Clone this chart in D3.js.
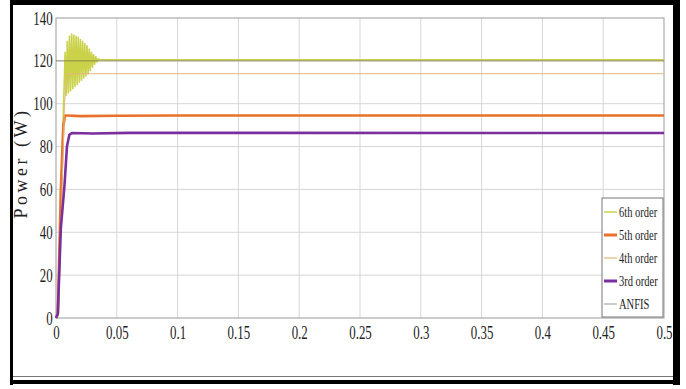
<!DOCTYPE html>
<html>
<head>
<meta charset="utf-8">
<script src="https://cdnjs.cloudflare.com/ajax/libs/d3/7.8.5/d3.min.js"></script>
<style>
  body { margin: 0; background: #fff; }
  svg text { font-family: "Liberation Serif", "DejaVu Serif", serif; }
</style>
</head>
<body>
<div id="chart"></div>
<script>
width = 686;
height = 389;

// time (s) and power (W)
let order6T = [0, 0.002, 0.004, 0.006,
    0.0075, 0.0084, 0.0093, 0.0102, 0.0111, 0.012, 0.0129, 0.0138, 0.0147, 0.0156,
    0.0165, 0.0174, 0.0183, 0.0192, 0.0201, 0.021, 0.0219, 0.0228, 0.0237, 0.0246,
    0.0255, 0.0264, 0.0273, 0.0282, 0.0291, 0.03, 0.0309, 0.0318, 0.0327, 0.0336,
    0.0345, 0.036, 0.5];
let order6V = [0, 2, 50, 95,
    124, 104, 129, 105, 131.5, 106, 132.5, 107, 132, 108,
    131.5, 109, 131, 110, 130, 111, 129, 112, 128, 113,
    127, 114, 125.5, 115.5, 124, 117, 123, 118.5, 122, 119.5,
    121, 120.5, 120.5];

let order5T = [0, 0.0015, 0.004, 0.006, 0.0075, 0.009, 0.02, 0.05, 0.1, 0.5];
let order5V = [0, 2, 60, 90, 94.5, 94.5, 94.2, 94.4, 94.5, 94.5];

let order4T = [0, 0.002, 0.005, 0.007, 0.009, 0.5];
let order4V = [0, 5, 60, 100, 114, 114];

let order3T = [0, 0.0015, 0.004, 0.007, 0.009, 0.011, 0.013, 0.03, 0.06, 0.5];
let order3V = [0, 2, 42, 62, 80, 85.5, 86.3, 86.1, 86.4, 86.3];

let anfisT = [0, 0.5];
let anfisV = [120, 120];

let xTicks = [0, 0.05, 0.1, 0.15, 0.2, 0.25, 0.3, 0.35, 0.4, 0.45, 0.5];
let yTicks = [0, 20, 40, 60, 80, 100, 120, 140];

let series = [
    {name: "6th order", t: order6T, v: order6V, color: "#cad24a", w: 1.6, lw: 1.5},
    {name: "5th order", t: order5T, v: order5V, color: "#e8702a", w: 2.6, lw: 3},
    {name: "4th order", t: order4T, v: order4V, color: "#e2b878", w: 1, lw: 1.2},
    {name: "3rd order", t: order3T, v: order3V, color: "#7b2f9e", w: 2.6, lw: 3},
    {name: "ANFIS", t: anfisT, v: anfisV, color: "#6f6f45", w: 0.7, lw: 1}
];

let svg1 = d3.select("#chart")
    .append("svg")
    .attr("width", width)
    .attr("height", height);

let x = d3.scaleLinear().domain([0, 0.5]).range([56, 664]);
let y = d3.scaleLinear().domain([0, 140]).range([318, 18]);

// grid
svg1.append("g")
    .selectAll("line")
    .data(xTicks.slice(1, -1))
    .enter()
    .append("line")
    .attr("x1", d => x(d)).attr("x2", d => x(d))
    .attr("y1", y(0)).attr("y2", y(140))
    .attr("stroke", "#d6d6d6");
svg1.append("g")
    .selectAll("line")
    .data(yTicks.slice(1, -1))
    .enter()
    .append("line")
    .attr("x1", x(0)).attr("x2", x(0.5))
    .attr("y1", d => y(d)).attr("y2", d => y(d))
    .attr("stroke", "#d6d6d6");

// plot box
svg1.append("rect")
    .attr("x", x(0)).attr("y", y(140))
    .attr("width", x(0.5) - x(0)).attr("height", y(0) - y(140))
    .attr("fill", "none").attr("stroke", "#9a9a9a");

let xAxis = svg1.append("g")
    .attr("transform", "translate(0," + y(0) + ")")
    .call(d3.axisBottom(x).tickValues(xTicks).tickFormat(d3.format("")).tickSize(0).tickPadding(8));
let yAxis = svg1.append("g")
    .attr("transform", "translate(" + x(0) + ",0)")
    .call(d3.axisLeft(y).tickValues(yTicks).tickSize(0).tickPadding(5));

[xAxis, yAxis].forEach(a => {
    a.select(".domain").remove();
    a.selectAll("text")
        .attr("font-size", 19)
        .attr("fill", "#222")
        .attr("transform", "scale(0.68,1)");
});

// lines
let lineGenerator = d3.line();
svg1.append("g")
    .selectAll("path")
    .data(series)
    .enter()
    .append("path")
    .attr("d", d => lineGenerator(d.t.map((t, i) => [x(t), y(d.v[i])])))
    .attr("fill", "none")
    .attr("stroke", d => d.color)
    .attr("stroke-width", d => d.w)
    .attr("stroke-linejoin", "round");

// y label
svg1.append("text")
    .attr("transform", "translate(27,163) rotate(-90)")
    .attr("text-anchor", "middle")
    .attr("font-size", 18)
    .attr("fill", "#222")
    .attr("letter-spacing", 3.5)
    .text("Power (W)");

// legend
let lg = svg1.append("g");
lg.append("rect")
    .attr("x", 602).attr("y", 198)
    .attr("width", 61).attr("height", 119)
    .attr("fill", "#fff").attr("stroke", "#777");
let items = lg.selectAll("g")
    .data(series)
    .enter()
    .append("g")
    .attr("transform", (d, i) => "translate(604," + (212 + i * 23) + ")");
items.append("line")
    .attr("x1", 0).attr("x2", 13)
    .attr("stroke", d => d.name === "ANFIS" ? "#999" : d.color)
    .attr("stroke-width", d => d.lw);
items.append("text")
    .attr("y", 5)
    .attr("font-size", 15)
    .attr("fill", "#222")
    .attr("transform", "scale(0.7,1)")
    .attr("x", 15 / 0.7)
    .text(d => d.name);

// black frame
let frame = svg1.append("g").attr("fill", "#000");
frame.append("rect").attr("x", 10).attr("y", 0).attr("width", 670).attr("height", 5);
frame.append("rect").attr("x", 10).attr("y", 0).attr("width", 3).attr("height", 385);
frame.append("rect").attr("x", 673).attr("y", 0).attr("width", 7).attr("height", 385);
frame.append("rect").attr("x", 10).attr("y", 380).attr("width", 670).attr("height", 4);
frame.append("rect").attr("x", 13).attr("y", 376).attr("width", 660).attr("height", 1).attr("fill", "#777");
</script>
</body>
</html>
